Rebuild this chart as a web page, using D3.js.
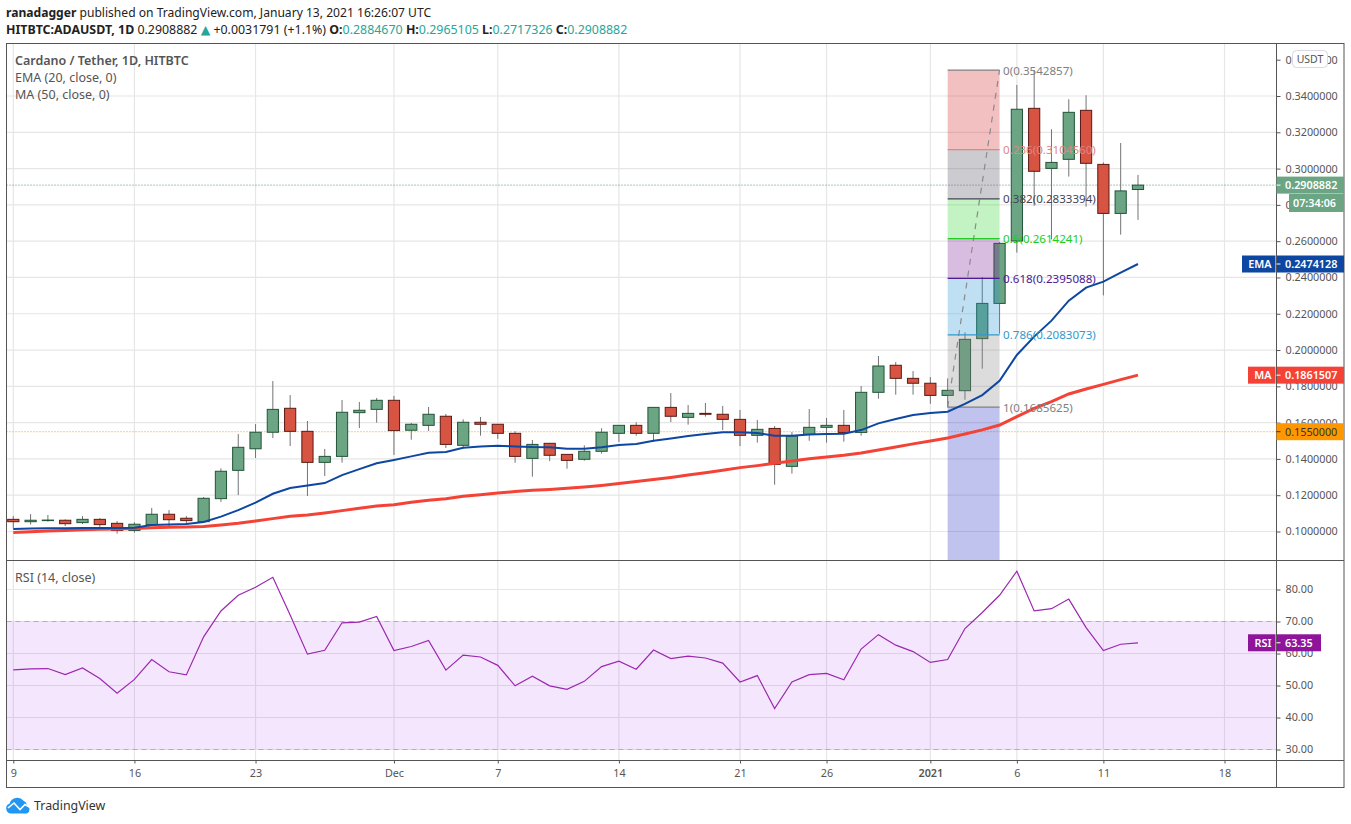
<!DOCTYPE html>
<html>
<head>
<meta charset="utf-8">
<title>ADAUSDT</title>
<script src="https://cdn.jsdelivr.net/npm/d3@7"></script>
<style>
    html, body { margin: 0; padding: 0; background: #fff; }
    svg { display: block; font-family: "Noto Sans", sans-serif; }
    .domain { display: none; }
</style>
</head>
<body>
<div id="chart"></div>
<script>
    // daily candles from 9 Nov 2020
    const open = [0.1067,0.1054,0.1060,0.1062,0.1049,0.1067,0.1045,0.1006,0.1038,0.1095,0.1073,0.1054,0.1181,0.1337,0.1456,0.1547,0.1679,0.1552,0.1381,0.1414,0.1655,0.1673,0.1723,0.1558,0.1585,0.1635,0.1475,0.1602,0.1591,0.1541,0.1403,0.1486,0.1425,0.1398,0.1442,0.1541,0.1585,0.1541,0.1684,0.1629,0.1651,0.1646,0.1618,0.1530,0.1568,0.1359,0.1535,0.1574,0.1585,0.1546,0.1767,0.1916,0.1844,0.1817,0.1750,0.1776,0.2063,0.2257,0.2601,0.3332,0.3001,0.3051,0.3321,0.3023,0.2753,0.2884670];
    const high = [0.1085,0.1096,0.1091,0.1067,0.1085,0.1074,0.1058,0.1051,0.1130,0.1118,0.1085,0.1190,0.1348,0.1537,0.1592,0.1829,0.1752,0.1609,0.1455,0.1725,0.1714,0.1736,0.1747,0.1598,0.1686,0.1648,0.1618,0.1631,0.1591,0.1552,0.1504,0.1486,0.1425,0.1475,0.1569,0.1585,0.1602,0.1684,0.1763,0.1697,0.1708,0.1692,0.1670,0.1615,0.1581,0.1548,0.1675,0.1625,0.1670,0.1802,0.1967,0.1934,0.1884,0.1851,0.1844,0.2097,0.2402,0.2595,0.3461,0.3543,0.3217,0.3382,0.3404,0.3034,0.3141,0.2965105];
    const low = [0.1017,0.1038,0.1054,0.1030,0.1041,0.1017,0.0988,0.0994,0.1032,0.1027,0.1041,0.1049,0.1163,0.1201,0.1405,0.1515,0.1471,0.1196,0.1306,0.1379,0.1570,0.1600,0.1422,0.1506,0.1554,0.1460,0.1458,0.1528,0.1510,0.1379,0.1302,0.1388,0.1346,0.1390,0.1429,0.1493,0.1528,0.1495,0.1603,0.1589,0.1633,0.1559,0.1471,0.1490,0.1258,0.1319,0.1500,0.1490,0.1495,0.1528,0.1732,0.1754,0.1754,0.1704,0.1684,0.1726,0.1897,0.2090,0.2537,0.2795,0.2610,0.2956,0.2790,0.2301,0.2636,0.2717326];
    const close = [0.1054,0.1062,0.1063,0.1043,0.1067,0.1038,0.1006,0.1040,0.1095,0.1065,0.1060,0.1183,0.1332,0.1464,0.1547,0.1673,0.1552,0.1381,0.1414,0.1657,0.1668,0.1723,0.1556,0.1591,0.1646,0.1480,0.1602,0.1591,0.1541,0.1414,0.1480,0.1420,0.1392,0.1442,0.1547,0.1585,0.1541,0.1684,0.1635,0.1651,0.1646,0.1618,0.1530,0.1563,0.1370,0.1526,0.1574,0.1585,0.1546,0.1767,0.1912,0.1844,0.1817,0.1750,0.1778,0.2059,0.2257,0.2588,0.3327,0.2985,0.3034,0.3310,0.3029,0.2753,0.2877,0.2908882];

    const ema = [0.1014,0.1016,0.1018,0.1018,0.1019,0.1019,0.1019,0.1021,0.1036,0.1039,0.1041,0.1052,0.1082,0.1118,0.1159,0.1208,0.1240,0.1253,0.1267,0.1311,0.1344,0.1376,0.1394,0.1414,0.1434,0.1438,0.1462,0.1469,0.1473,0.1469,0.1465,0.1464,0.1456,0.1456,0.1464,0.1477,0.1482,0.1500,0.1513,0.1526,0.1537,0.1547,0.1547,0.1543,0.1528,0.1528,0.1534,0.1537,0.1539,0.1559,0.1596,0.1620,0.1642,0.1653,0.1660,0.1703,0.1752,0.1831,0.1973,0.2074,0.2162,0.2272,0.2344,0.2377,0.2427,0.2474128];
    const ma = [0.0995,0.0999,0.1003,0.1006,0.1010,0.1012,0.1014,0.1017,0.1021,0.1023,0.1025,0.1027,0.1036,0.1045,0.1058,0.1071,0.1084,0.1091,0.1102,0.1115,0.1128,0.1141,0.1148,0.1161,0.1172,0.1181,0.1194,0.1203,0.1212,0.1220,0.1227,0.1232,0.1238,0.1245,0.1254,0.1265,0.1275,0.1286,0.1298,0.1311,0.1324,0.1337,0.1352,0.1363,0.1376,0.1389,0.1401,0.1411,0.1420,0.1433,0.1449,0.1466,0.1483,0.1499,0.1515,0.1537,0.1560,0.1587,0.1633,0.1679,0.1716,0.1758,0.1785,0.1811,0.1837,0.1861507];
    const rsi = [54.9,55.2,55.3,53.4,55.5,52.2,47.6,51.9,58.1,54.3,53.3,65.2,73.3,78.2,80.7,83.8,72,59.8,61,69.6,69.8,71.6,60.9,62.2,64.1,54.8,59.5,58.9,56.3,49.9,52.9,49.9,48.8,51.3,55.9,57.6,55.1,61.1,58.4,59.2,58.6,57,51.1,53.1,42.8,51.1,53.4,53.8,51.8,61.4,65.9,62.6,60.6,57.2,58.1,67.8,72.8,78.2,85.7,73.3,74,77,68.1,60.9,62.9,63.35];

    const priceTicks = [0.10,0.12,0.14,0.16,0.18,0.20,0.22,0.24,0.26,0.28,0.30,0.32,0.34,0.36];
    const rsiTicks = [30,40,50,60,70,80];
    const timeTicks = [0,7,14,22,28,35,42,47,53,58,63,70];
    const timeLabels = ["9","16","23","Dec","7","14","21","26","2021","6","11","18"];

    const fibRatios = ["0","0.236","0.382","0.5","0.618","0.786","1"];
    const fibPrices = [0.3542857,0.3104560,0.2833394,0.2614241,0.2395088,0.2083073,0.1685625];
    const fibLine = ["#808080","#e08585","#444455","#22cc22","#4b1a94","#3399cc","#808080"];
    const fibFill = ["#d43030","#525262","#37d437","#822398","#2a94d4","#8a8a8a","#2a37c6"];

    const width = 1351;
    const height = 824;
    const left = 6.5, right = 1276.5, outer = 1344;
    const top1 = 43.5, bottom1 = 560.5, bottom2 = 760.5, bottom3 = 787.5;

    const svg = d3.select("#chart").append("svg")
        .attr("width", width)
        .attr("height", height);

    // SCALES
    const x = d3.scaleLinear().domain([0, 70]).range([13.3, 1224.5]);
    const y = d3.scaleLinear().domain([0.10, 0.34]).range([531.5, 96]);
    const yRsi = d3.scaleLinear().domain([30, 80]).range([749.5, 589.5]);

    svg.append("clipPath").attr("id", "pricePane").append("rect")
        .attr("x", left).attr("y", top1).attr("width", right - left).attr("height", bottom1 - top1);
    svg.append("clipPath").attr("id", "rsiPane").append("rect")
        .attr("x", left).attr("y", bottom1).attr("width", right - left).attr("height", bottom2 - bottom1);

    // GRID
    const grid = svg.append("g").attr("stroke", "#e6e6e6").attr("stroke-width", 1.2);
    grid.selectAll(".h").data(priceTicks.slice(0, 13)).join("line")
        .attr("x1", left).attr("x2", right).attr("y1", d => y(d)).attr("y2", d => y(d));
    grid.selectAll(".r").data(rsiTicks).join("line")
        .attr("x1", left).attr("x2", right).attr("y1", d => yRsi(d)).attr("y2", d => yRsi(d));
    [[top1, bottom1], [bottom1, bottom2]].forEach(p => {
        grid.append("g").selectAll("line").data(timeTicks).join("line")
            .attr("x1", d => x(d)).attr("x2", d => x(d)).attr("y1", p[0]).attr("y2", p[1]);
    });

    // DOTTED PRICE LINES
    svg.append("line").attr("x1", left).attr("x2", right)
        .attr("y1", y(close[65])).attr("y2", y(close[65]))
        .attr("stroke", "#5f8a76").attr("stroke-dasharray", "1 2");
    svg.append("line").attr("x1", left).attr("x2", right)
        .attr("y1", y(0.155)).attr("y2", y(0.155))
        .attr("stroke", "#ff9800").attr("stroke-dasharray", "1 2");

    const main = svg.append("g").attr("clip-path", "url(#pricePane)");

    // CANDLES
    const candles = main.append("g").selectAll("g").data(open).join("g");
    candles.append("line")
        .attr("x1", (d, i) => x(i)).attr("x2", (d, i) => x(i))
        .attr("y1", (d, i) => y(high[i])).attr("y2", (d, i) => y(low[i]))
        .attr("stroke", "#737375").attr("stroke-width", 1);
    candles.append("rect")
        .attr("x", (d, i) => x(i) - 5.6)
        .attr("width", 11.2)
        .attr("y", (d, i) => y(Math.max(open[i], close[i])))
        .attr("height", (d, i) => Math.abs(y(open[i]) - y(close[i])))
        .attr("fill", (d, i) => close[i] >= open[i] ? "#6ba583" : "#d75442")
        .attr("stroke", (d, i) => close[i] >= open[i] ? "#225437" : "#5b1a13")
        .attr("stroke-width", 1);

    // FIB RETRACEMENT
    const fibX0 = x(54), fibX1 = x(57);
    const fibEdges = fibPrices.concat([y.invert(bottom1)]);
    main.append("g").selectAll("rect").data(fibFill).join("rect")
        .attr("x", fibX0).attr("width", fibX1 - fibX0)
        .attr("y", (d, i) => y(fibEdges[i]))
        .attr("height", (d, i) => y(fibEdges[i + 1]) - y(fibEdges[i]))
        .attr("fill", d => d).attr("fill-opacity", 0.3);
    main.append("line")
        .attr("x1", fibX0).attr("y1", y(fibPrices[6]))
        .attr("x2", fibX1).attr("y2", y(fibPrices[0]))
        .attr("stroke", "#8a8a8a").attr("stroke-width", 1.2).attr("stroke-dasharray", "6 6");
    main.append("g").selectAll("line").data(fibPrices).join("line")
        .attr("x1", fibX0).attr("x2", fibX1)
        .attr("y1", d => y(d)).attr("y2", d => y(d))
        .attr("stroke", (d, i) => fibLine[i]).attr("stroke-width", 1.2);

    // MOVING AVERAGES
    const priceLine = d3.line().x((d, i) => x(i)).y(d => y(d));
    main.append("path").attr("d", priceLine(ma)).attr("fill", "none")
        .attr("stroke", "#f44336").attr("stroke-width", 3);
    main.append("path").attr("d", priceLine(ema)).attr("fill", "none")
        .attr("stroke", "#0d47a1").attr("stroke-width", 2);

    // FIB LABELS
    svg.append("g").selectAll("text").data(fibPrices).join("text")
        .attr("x", fibX1 + 3.5)
        .attr("y", d => y(d) + 4.5)
        .attr("fill", (d, i) => i === 3 ? "#22cc22" : fibLine[i])
        .attr("font-size", 11.6)
        .text((d, i) => `${fibRatios[i]}(${d.toFixed(7)})`);

    // RSI
    svg.append("rect")
        .attr("x", left).attr("width", right - left)
        .attr("y", yRsi(70)).attr("height", yRsi(30) - yRsi(70))
        .attr("fill", "#9c27f0").attr("fill-opacity", 0.11);
    svg.append("g").selectAll("line").data([30, 70]).join("line")
        .attr("x1", left).attr("x2", right)
        .attr("y1", d => yRsi(d)).attr("y2", d => yRsi(d))
        .attr("stroke", "#b9a8c6").attr("stroke-dasharray", "5 4");
    svg.append("path")
        .attr("clip-path", "url(#rsiPane)")
        .attr("d", d3.line().x((d, i) => x(i)).y(d => yRsi(d))(rsi))
        .attr("fill", "none").attr("stroke", "#9c27b0").attr("stroke-width", 1.2);

    // FRAME
    const frame = svg.append("g").attr("stroke", "#555").attr("stroke-width", 1).attr("fill", "none");
    frame.append("rect").attr("x", left).attr("y", top1).attr("width", outer - left).attr("height", bottom3 - top1);
    frame.append("line").attr("x1", left).attr("x2", outer).attr("y1", bottom1).attr("y2", bottom1);
    frame.append("line").attr("x1", left).attr("x2", outer).attr("y1", bottom2).attr("y2", bottom2);
    frame.append("line").attr("x1", right).attr("x2", right).attr("y1", top1).attr("y2", bottom3);

    // AXES
    function styleAxis(g) {
        g.selectAll("line").attr("stroke", "#555");
        g.selectAll("text").attr("fill", "#555").attr("font-size", 10.8).attr("font-family", '"Noto Sans", sans-serif');
    }
    svg.append("g").attr("transform", `translate(${right},0)`)
        .call(d3.axisRight(y).tickValues(priceTicks).tickFormat(d => d.toFixed(7)).tickSize(4).tickPadding(5))
        .call(styleAxis);
    svg.append("g").attr("transform", `translate(${right},0)`)
        .call(d3.axisRight(yRsi).tickValues(rsiTicks).tickFormat(d => d.toFixed(2)).tickSize(4).tickPadding(5))
        .call(styleAxis);
    svg.append("g").attr("transform", `translate(0,${bottom2})`)
        .call(d3.axisBottom(x).tickValues(timeTicks).tickFormat((d, i) => timeLabels[i]).tickSize(3).tickPadding(6))
        .call(styleAxis)
        .call(g => g.selectAll("text").attr("font-weight", (d, i) => timeLabels[i] === "2021" ? 600 : 400));

    // PRICE TAGS
    function tag(yCenter, x0, x1, fill, textFill, value, name, nameX) {
        const g = svg.append("g");
        g.append("rect").attr("x", x0).attr("y", yCenter - 8.5).attr("width", x1 - x0).attr("height", 17).attr("fill", fill);
        g.append("text").attr("x", 1285).attr("y", yCenter + 4).attr("fill", textFill)
            .attr("font-size", 10.8).attr("font-weight", textFill === "#fff" ? 600 : 400).text(value);
        if (name) {
            g.append("rect").attr("x", nameX).attr("y", yCenter - 8.5).attr("width", right - 1 - nameX).attr("height", 17).attr("fill", fill);
            g.append("text").attr("x", right - 5).attr("y", yCenter + 4).attr("text-anchor", "end")
                .attr("fill", "#fff").attr("font-size", 10.8).attr("font-weight", 600).text(name);
        }
        g.append("line").attr("x1", right).attr("x2", right + 4).attr("y1", yCenter).attr("y2", yCenter)
            .attr("stroke", textFill);
    }
    tag(y(close[65]), right, outer, "#6ba583", "#fff", close[65].toFixed(7));
    tag(y(ema[65]), right + 0.5, outer, "#0d47a1", "#fff", ema[65].toFixed(7), "EMA", 1242);
    tag(y(ma[65]), right + 0.5, outer, "#f44336", "#fff", ma[65].toFixed(7), "MA", 1248);
    tag(y(0.155), right, outer, "#ff9800", "#333", (0.155).toFixed(7));
    tag(yRsi(rsi[65]), right + 0.5, 1321, "#8e1599", "#fff", rsi[65].toFixed(2), "RSI", 1248);

    svg.append("rect").attr("x", 1289).attr("y", 194).attr("width", 55).attr("height", 18).attr("fill", "#6ba583");
    svg.append("text").attr("x", 1293).attr("y", 207).attr("fill", "#fff").attr("font-size", 10.8).attr("font-weight", 600).text("07:34:06");

    svg.append("rect").attr("x", 1292.5).attr("y", 50.5).attr("width", 35).attr("height", 17).attr("rx", 4)
        .attr("fill", "#fff").attr("stroke", "#d8d8e6");
    svg.append("text").attr("x", 1310).attr("y", 63).attr("text-anchor", "middle").attr("fill", "#555").attr("font-size", 10.5).text("USDT");

    // HEADER
    svg.append("text").attr("x", 6).attr("y", 17).attr("font-size", 12.1).attr("fill", "#222")
        .html('<tspan font-weight="700">ranadagger</tspan> published on TradingView.com, January 13, 2021 16:26:07 UTC');
    const teal = "#26a69a";
    svg.append("text").attr("x", 6).attr("y", 34).attr("font-size", 12.4).attr("fill", "#222")
        .html(`<tspan font-weight="700">HITBTC:ADAUSDT, 1D</tspan> 0.2908882 <tspan fill="${teal}" font-family="DejaVu Sans">▲</tspan> +0.0031791 (+1.1%) `
            + `<tspan font-weight="700">O:</tspan><tspan fill="${teal}">0.2884670</tspan> `
            + `<tspan font-weight="700">H:</tspan><tspan fill="${teal}">0.2965105</tspan> `
            + `<tspan font-weight="700">L:</tspan><tspan fill="${teal}">0.2717326</tspan> `
            + `<tspan font-weight="700">C:</tspan><tspan fill="${teal}">0.2908882</tspan>`);

    // LEGENDS
    svg.append("text").attr("x", 15).attr("y", 65).attr("font-size", 12.5).attr("font-weight", 600).attr("fill", "#555").text("Cardano / Tether, 1D, HITBTC");
    svg.append("text").attr("x", 15).attr("y", 82).attr("font-size", 12.5).attr("fill", "#555").text("EMA (20, close, 0)");
    svg.append("text").attr("x", 15).attr("y", 99).attr("font-size", 12.5).attr("fill", "#555").text("MA (50, close, 0)");
    svg.append("text").attr("x", 15).attr("y", 582).attr("font-size", 12.5).attr("fill", "#555").text("RSI (14, close)");

    // LOGO
    const logo = svg.append("g");
    logo.append("path")
        .attr("d", "M11 813.5a5 5 0 0 1-1.5-9.7a8 8 0 0 1 14-3a6.5 6.5 0 0 1 3.5 4a5 5 0 0 1 0 8.7z")
        .attr("fill", "#2196f3");
    logo.append("path")
        .attr("d", "M8 808L14 803L20 809.5L25 804.5L31 808")
        .attr("fill", "none").attr("stroke", "#fff").attr("stroke-width", 1.6);
    svg.append("text").attr("x", 34).attr("y", 810).attr("font-size", 12.4).attr("fill", "#333").text("TradingView");
</script>
</body>
</html>
